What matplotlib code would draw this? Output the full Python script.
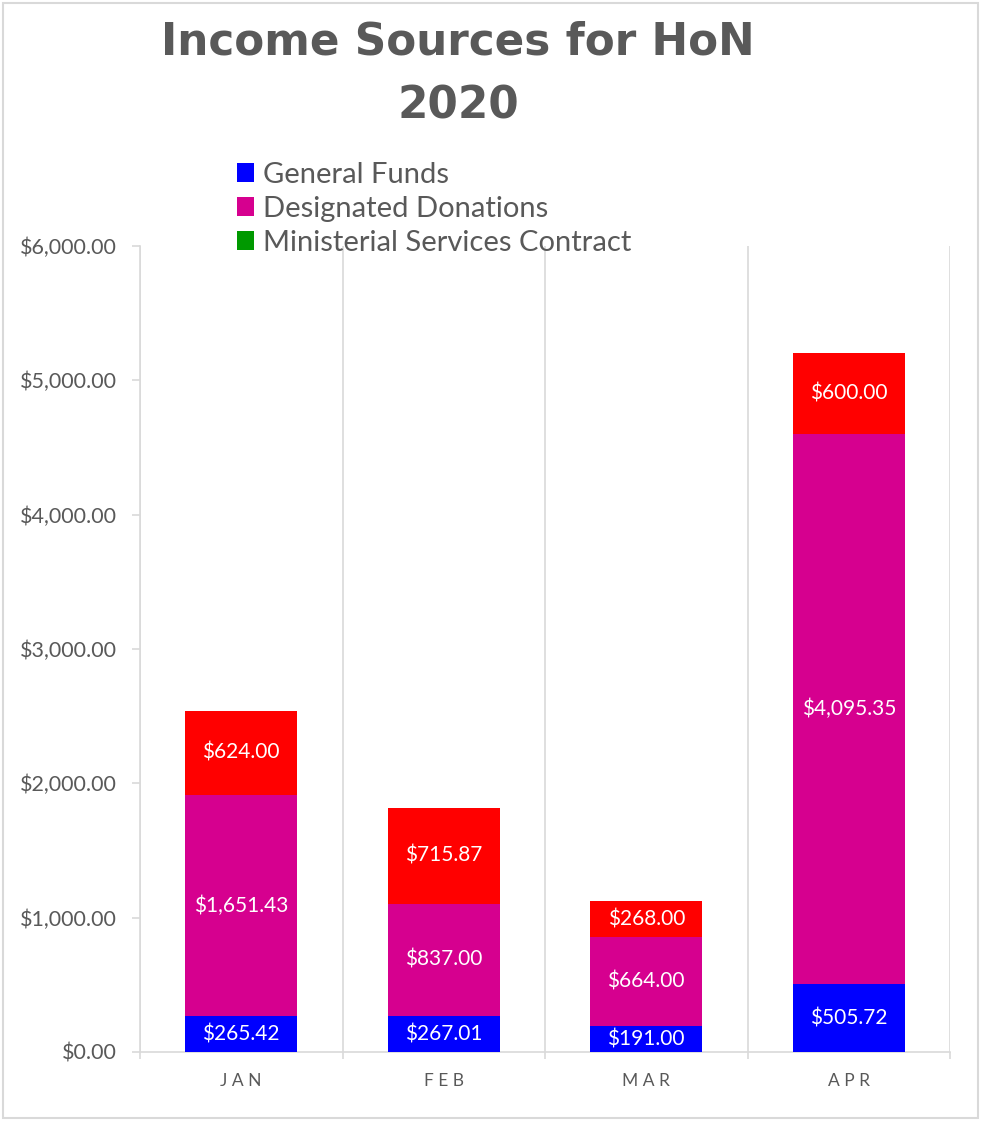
import matplotlib.pyplot as plt
from matplotlib.patches import Patch, Rectangle

months = ['JAN', 'FEB', 'MAR', 'APR']
general_funds = [265.42, 267.01, 191.00, 505.72]
designated_donations = [1651.43, 837.00, 664.00, 4095.35]
ministerial_contract = [0, 0, 0, 0]
other_income = [624.00, 715.87, 268.00, 600.00]

series_names = ['General Funds', 'Designated Donations', 'Ministerial Services Contract']
colors = ['#0000ff', '#d6008f', '#009900', '#ff0000']
text_gray = '#595959'
grid_gray = '#d9d9d9'

plt.rcParams['font.family'] = ['Lato', 'DejaVu Sans']


def money(v):
    return '${:,.2f}'.format(v)


def plot_figure(output_file):
    fig = plt.figure(figsize=(9.81, 11.21), dpi=100)
    ax = fig.add_axes([140 / 981, 1 - 1052 / 1121, 810 / 981, 806 / 1121])

    x = range(len(months))
    width = 0.553
    bottom = [0.0] * len(months)
    stacks = [general_funds, designated_donations, ministerial_contract, other_income]
    for vals, col in zip(stacks, colors):
        bars = ax.bar(x, vals, width, bottom=bottom, color=col, zorder=3)
        labels = [money(v) if v > 0 else '' for v in vals]
        ax.bar_label(bars, labels=labels, label_type='center', color='white',
                     fontsize=15, zorder=4)
        bottom = [b + v for b, v in zip(bottom, vals)]

    ax.set_xlim(-0.5, len(months) - 0.5)
    ax.set_ylim(0, 6000)
    ax.set_yticks(range(0, 6001, 1000))
    ax.set_yticklabels([money(v) for v in range(0, 6001, 1000)])
    ax.set_xticks(list(x))
    ax.set_xticklabels([' '.join(m) for m in months])
    ax.set_xticks([i - 0.5 for i in range(len(months) + 1)], minor=True)
    ax.tick_params(axis='x', which='major', length=0, pad=15, labelsize=12.5, labelcolor=text_gray)
    ax.tick_params(axis='x', which='minor', length=5, color=grid_gray, width=1.2)
    ax.tick_params(axis='y', length=6, color=grid_gray, width=1.2, pad=10.5,
                   labelsize=15.5, labelcolor=text_gray)
    ax.grid(True, axis='x', which='minor', color=grid_gray, linewidth=1.2, zorder=0)

    for side in ['top', 'right']:
        ax.spines[side].set_visible(False)
    for side in ['left', 'bottom']:
        ax.spines[side].set_color(grid_gray)
        ax.spines[side].set_linewidth(1.2)

    title_font = dict(ha='center', va='center', fontsize=31.5, fontweight='bold',
                      color=text_gray, family='DejaVu Sans')
    fig.text(458 / 981, 1 - 42 / 1121, 'Income Sources for HoN', **title_font)
    fig.text(458 / 981, 1 - 106 / 1121, '2020', **title_font)

    handles = [Patch(facecolor=c) for c in colors[:3]]
    fig.legend(handles, series_names, loc='upper left',
               bbox_to_anchor=(222 / 981, 1 - 147 / 1121), frameon=False,
               fontsize=21, labelcolor=text_gray, handlelength=0.6, handleheight=0.6,
               handletextpad=0.3, labelspacing=0.28, borderpad=0)

    # light border round the whole chart
    fig.patches.append(Rectangle((3 / 981, 3 / 1121), 975 / 981, 1115 / 1121,
                                 transform=fig.transFigure, fill=False,
                                 edgecolor=grid_gray, linewidth=1.5))

    plt.savefig(output_file)
    plt.close()


if __name__ == "__main__":
    plot_figure("out.png")
